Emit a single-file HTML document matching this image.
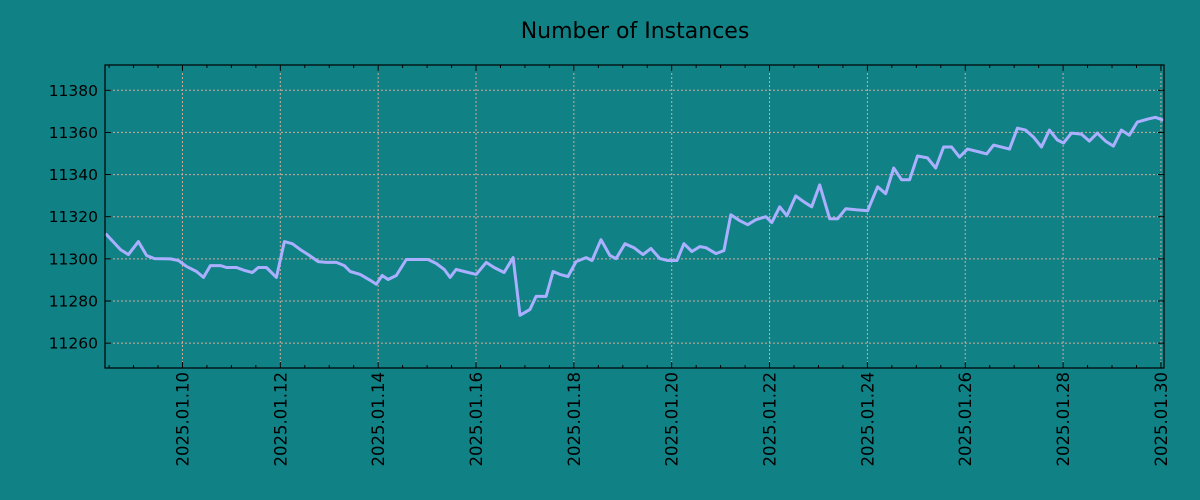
<!DOCTYPE html>
<html><head><meta charset="utf-8"><style>
body{margin:0;background:#108286;}
svg{display:block;font-family:"DejaVu Sans","Liberation Sans",sans-serif;}
</style></head><body>
<svg id="chart" width="1200" height="500" viewBox="0 0 1200 500">
<rect width="1200" height="500" fill="#108286"/>
<text x="635" y="38" text-anchor="middle" font-size="22" fill="#000">Number of Instances</text>
<g id="grid"></g>
<g id="series"></g>
<g id="axes"></g>
</svg>
<script>
// hours since 2025-01-08 00:00
const hours = [10.3,17.6,21.5,26.4,30.4,34.3,42.1,46,50,54.9,
58.3,61.7,66.6,69.6,74.5,78.4,82.3,85.2,89.2,94.1,
98,101.9,105.8,109.7,114.6,118.6,123.5,127.4,130.3,135.2,
140.1,143.1,146,148.9,152.9,157.8,164.6,168.5,172.5,176.4,
179.3,182.3,186.2,192.1,197,200.9,205.8,210.2,213.6,218.5,
221.5,226.4,229.8,233.2,237.1,241.1,246,248.9,253.3,257.7,
260.7,265.1,269.5,273.9,277.8,282.2,286.1,290.6,294,297.9,
301.8,304.8,309.7,313.6,317,321.4,325.3,329.3,334.2,337.1,
341,344.5,348.9,352.8,356.7,360.6,365.5,369.4,373.4,378.3,
384.1,389,393,396.9,400.8,404.7,408.6,413.5,417.5,421.4,
425.3,429.2,433.1,439,442.5,445.9,453.7,457.6,461.6,465.5,
469.4,473.3,477.2,480.2,484.1,489,492.9,496.8,500.8,504.7,
508.6,512.5,516.4,521.3,525.3,529.2];
const values = [11312,11304.4,11302,11308.2,11301.6,11300.1,11300,11299.2,11296.4,11294,
11291.2,11296.8,11296.8,11295.9,11295.9,11294.5,11293.5,11295.9,11295.9,11291.2,
11308.2,11307.2,11304.4,11302,11298.7,11298.3,11298.3,11296.8,11294,11292.6,
11289.8,11287.9,11292.1,11290.2,11292.1,11299.7,11299.7,11299.7,11297.8,11295,
11291.2,11295,11294,11292.6,11298.3,11295.9,11293.5,11300.6,11273.2,11276,
11282.2,11282.2,11294,11292.6,11291.6,11298.7,11300.6,11299.2,11309.1,11301.6,
11300.1,11307.2,11305.3,11302,11304.9,11300.1,11299.2,11299.2,11307.2,11303.5,
11305.8,11305.3,11302.5,11303.9,11320.9,11318.1,11316.2,11318.6,11320,11317.2,
11324.7,11320.5,11329.9,11327.1,11324.7,11335.1,11319,11319,11323.8,11323.3,
11322.8,11334.2,11330.9,11343.1,11337.5,11337.5,11348.8,11347.9,11343.1,11353.1,
11353.1,11348.3,11352.1,11350.7,11349.8,11354,11352.1,11362,11361.1,11357.8,
11353.1,11361.1,11356.4,11355,11359.7,11359.2,11355.9,11359.7,11355.9,11353.5,
11361.1,11358.7,11364.9,11366.3,11367.2,11365.8];
const xTickHours = [48,96,144,192,240,288,336,384,432,480,528];
const xTickLabels = ["2025.01.10","2025.01.12","2025.01.14","2025.01.16","2025.01.18","2025.01.20","2025.01.22","2025.01.24","2025.01.26","2025.01.28","2025.01.30"];
const yTicks = [11260,11280,11300,11320,11340,11360,11380];

const L=105,R=1164,T=65,B=368;
const xMin=10.0,xMax=529.5,yMin=11248.2,yMax=11392;
const xs=h=>L+(h-xMin)/(xMax-xMin)*(R-L);
const ys=v=>B-(v-yMin)/(yMax-yMin)*(B-T);
const NS="http://www.w3.org/2000/svg";
function mk(tag,attrs,parent){const e=document.createElementNS(NS,tag);for(const k in attrs)e.setAttribute(k,attrs[k]);parent.appendChild(e);return e;}
const grid=document.getElementById('grid'),axes=document.getElementById('axes'),series=document.getElementById('series');
const gc="#d2a89a";
xTickHours.forEach((h,i)=>{
  const x=xs(h);
  const g=mk('line',{x1:x,x2:x,y1:T,y2:B,stroke:gc,'stroke-width':1,'stroke-dasharray':'2,2'},grid);
  
  
  const t1=mk('line',{x1:x,x2:x,y1:B,y2:B-6,stroke:'#000','stroke-width':1},axes);
  
  
  const t2=mk('line',{x1:x,x2:x,y1:T,y2:T+6,stroke:'#000','stroke-width':1},axes);
  
  
  const tx=mk('text',{x:0,y:0,'font-size':16.5,fill:'#000','text-anchor':'end',transform:`translate(${x+6},${B+4}) rotate(-90)`},axes);
  tx.textContent=xTickLabels[i];
  
  
});
for(let h=12;h<xMax;h+=12){
  if(h%48===0)continue;
  const x=xs(h);
  const m1=mk('line',{x1:x,x2:x,y1:B,y2:B-3,stroke:'#000','stroke-width':1},axes);
  
  
  const m2=mk('line',{x1:x,x2:x,y1:T,y2:T+3,stroke:'#000','stroke-width':1},axes);
  
  
}
yTicks.forEach(v=>{
  const y=ys(v);
  const g=mk('line',{x1:L,x2:R,y1:y,y2:y,stroke:gc,'stroke-width':1,'stroke-dasharray':'2,2'},grid);
  
  
  const t1=mk('line',{x1:L,x2:L+6,y1:y,y2:y,stroke:'#000','stroke-width':1},axes);
  
  
  const t2=mk('line',{x1:R,x2:R-6,y1:y,y2:y,stroke:'#000','stroke-width':1},axes);
  
  
  const tx=mk('text',{x:L-7,y:y+5.5,'font-size':15.5,fill:'#000','text-anchor':'end'},axes);
  tx.textContent=v;
  
  
});
const fr=mk('rect',{x:L,y:T,width:R-L,height:B-T,fill:'none',stroke:'#000','stroke-width':1.2},axes);


const d=hours.map((h,i)=>(i?'L':'M')+xs(h).toFixed(1)+','+ys(values[i]).toFixed(1)).join(' ');
const p=mk('path',{d:d,fill:'none',stroke:'#aab0ff','stroke-width':3,'stroke-linejoin':'round'},series);


</script>
</body></html>
